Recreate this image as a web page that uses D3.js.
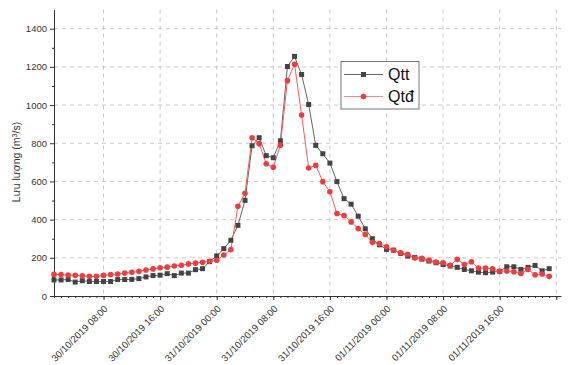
<!DOCTYPE html>
<html>
<head>
<meta charset="utf-8">
<script src="https://cdn.jsdelivr.net/npm/d3@7"></script>
<style>
  body { margin: 0; background: #fff; }
  text { font-family: "Liberation Sans", Arial, sans-serif; }
</style>
</head>
<body>
<svg></svg>
<script>
// hourly timestamps of the measurements
var times = [
  "30/10/2019 01:00","30/10/2019 02:00","30/10/2019 03:00","30/10/2019 04:00","30/10/2019 05:00","30/10/2019 06:00",
  "30/10/2019 07:00","30/10/2019 08:00","30/10/2019 09:00","30/10/2019 10:00","30/10/2019 11:00","30/10/2019 12:00",
  "30/10/2019 13:00","30/10/2019 14:00","30/10/2019 15:00","30/10/2019 16:00","30/10/2019 17:00","30/10/2019 18:00",
  "30/10/2019 19:00","30/10/2019 20:00","30/10/2019 21:00","30/10/2019 22:00","30/10/2019 23:00","31/10/2019 00:00",
  "31/10/2019 01:00","31/10/2019 02:00","31/10/2019 03:00","31/10/2019 04:00","31/10/2019 05:00","31/10/2019 06:00",
  "31/10/2019 07:00","31/10/2019 08:00","31/10/2019 09:00","31/10/2019 10:00","31/10/2019 11:00","31/10/2019 12:00",
  "31/10/2019 13:00","31/10/2019 14:00","31/10/2019 15:00","31/10/2019 16:00","31/10/2019 17:00","31/10/2019 18:00",
  "31/10/2019 19:00","31/10/2019 20:00","31/10/2019 21:00","31/10/2019 22:00","31/10/2019 23:00","01/11/2019 00:00",
  "01/11/2019 01:00","01/11/2019 02:00","01/11/2019 03:00","01/11/2019 04:00","01/11/2019 05:00","01/11/2019 06:00",
  "01/11/2019 07:00","01/11/2019 08:00","01/11/2019 09:00","01/11/2019 10:00","01/11/2019 11:00","01/11/2019 12:00",
  "01/11/2019 13:00","01/11/2019 14:00","01/11/2019 15:00","01/11/2019 16:00","01/11/2019 17:00","01/11/2019 18:00",
  "01/11/2019 19:00","01/11/2019 20:00","01/11/2019 21:00","01/11/2019 22:00","01/11/2019 23:00"
];

var qtt = [84, 84, 86, 73, 80, 76, 76, 76, 76, 86, 86, 87, 91, 100, 107, 109, 117, 107, 120, 120,
  138, 143, 180, 210, 248, 292, 370, 501, 787, 829, 735, 724, 813, 1202, 1255, 1160, 1003, 789, 745, 696,
  599, 510, 481, 418, 352, 300, 268, 244, 240, 223, 209, 202, 193, 183, 174, 165, 157, 150, 139, 132,
  125, 122, 125, 129, 153, 153, 139, 150, 160, 132, 143];

var qtd = [113, 112, 110, 108, 106, 103, 103, 108, 112, 115, 120, 124, 129, 136, 142, 148, 151, 157, 161, 168,
  172, 177, 182, 187, 215, 243, 470, 538, 829, 798, 693, 674, 790, 1128, 1214, 948, 670, 684, 599, 546,
  432, 421, 388, 353, 322, 281, 275, 258, 240, 226, 219, 199, 197, 188, 178, 174, 161, 192, 165, 179,
  146, 146, 143, 129, 131, 127, 118, 139, 111, 115, 103];

var tickLabels = ["30/10/2019 08:00", "30/10/2019 16:00", "31/10/2019 00:00", "31/10/2019 08:00",
  "31/10/2019 16:00", "01/11/2019 00:00", "01/11/2019 08:00", "01/11/2019 16:00"];
var lastTick = "02/11/2019 00:00"; // tick without label
var yTicks = [0, 200, 400, 600, 800, 1000, 1200, 1400];

var svgWidth = 569, svgHeight = 365;
var plotLeft = 54, plotRight = 561, plotTop = 9.6, plotBottom = 296;

var parse = d3.timeParse("%d/%m/%Y %H:%M");
var dates = times.map(parse);

var svg = d3.select("svg")
    .attr("width", svgWidth)
    .attr("height", svgHeight);

var x = d3.scaleTime()
    .domain([parse("30/10/2019 01:00"), parse("02/11/2019 00:40")])
    .range([plotLeft, plotRight]);

var y = d3.scaleLinear()
    .domain([0, 1500])
    .range([plotBottom, plotTop]);

var majorX = tickLabels.concat([lastTick]).map(parse);

// dashed grid
svg.append("g").selectAll("line")
    .data(yTicks.slice(1))
    .enter().append("line")
    .attr("x1", plotLeft).attr("x2", plotRight)
    .attr("y1", function(d) { return y(d); })
    .attr("y2", function(d) { return y(d); })
    .attr("stroke", "#c8c8c8").attr("stroke-dasharray", "4,4");

svg.append("g").selectAll("line")
    .data(majorX)
    .enter().append("line")
    .attr("x1", function(d) { return x(d); })
    .attr("x2", function(d) { return x(d); })
    .attr("y1", plotTop).attr("y2", plotBottom)
    .attr("stroke", "#c8c8c8").attr("stroke-dasharray", "4,4");

// minor ticks
svg.append("g")
    .attr("transform", "translate(0," + plotBottom + ")")
    .call(d3.axisBottom(x).tickValues(d3.timeHour.range(x.domain()[0], x.domain()[1])).tickSize(2).tickFormat(""))
    .call(function(g) { g.select(".domain").remove(); });

svg.append("g")
    .attr("transform", "translate(" + plotLeft + ",0)")
    .call(d3.axisLeft(y).tickValues(d3.range(100, 1500, 200)).tickSize(2).tickFormat(""))
    .call(function(g) { g.select(".domain").remove(); });

// x axis
var xAxis = svg.append("g")
    .attr("transform", "translate(0," + plotBottom + ")")
    .call(d3.axisBottom(x).tickValues(majorX).tickSize(4).tickSizeOuter(0)
        .tickFormat(function(d, i) { return i < tickLabels.length ? tickLabels[i] : ""; }));

xAxis.selectAll("text")
    .attr("text-anchor", "end")
    .attr("font-size", "9.6px")
    .attr("fill", "#333")
    .attr("x", 0).attr("y", 0).attr("dy", "0.35em")
    .attr("transform", "translate(2,11) rotate(-45)");

// y axis
var yAxis = svg.append("g")
    .attr("transform", "translate(" + plotLeft + ",0)")
    .call(d3.axisLeft(y).tickValues(yTicks).tickSize(4).tickSizeOuter(0).tickPadding(3)
        .tickFormat(d3.format("d")));

yAxis.selectAll("text").attr("font-size", "9.5px").attr("fill", "#333");
svg.selectAll(".domain, .tick line").attr("stroke", "#333");

svg.append("text")
    .attr("transform", "translate(20,162) rotate(-90)")
    .attr("text-anchor", "middle")
    .attr("font-size", "10.5px")
    .attr("fill", "#333")
    .html("Lưu lượng (m<tspan baseline-shift='super' font-size='7px'>3</tspan>/s)");

// series lines
var line = d3.line()
    .x(function(d, i) { return x(dates[i]); })
    .y(function(d) { return y(d); });

svg.append("path").datum(qtt)
    .attr("d", line).attr("fill", "none")
    .attr("stroke", "#666").attr("stroke-width", 1);

svg.append("path").datum(qtd)
    .attr("d", line).attr("fill", "none")
    .attr("stroke", "#ff5a5a").attr("stroke-width", 1);

svg.append("g").selectAll("rect")
    .data(qtt)
    .enter().append("rect")
    .attr("x", function(d, i) { return x(dates[i]) - 2.5; })
    .attr("y", function(d) { return y(d) - 2.5; })
    .attr("width", 5).attr("height", 5)
    .attr("fill", "#444");

svg.append("g").selectAll("circle")
    .data(qtd)
    .enter().append("circle")
    .attr("cx", function(d, i) { return x(dates[i]); })
    .attr("cy", function(d) { return y(d); })
    .attr("r", 2.8)
    .attr("fill", "#f03c3c");

// legend
var legend = svg.append("g");
legend.append("rect")
    .attr("x", 341).attr("y", 61.5).attr("width", 78).attr("height", 47.5)
    .attr("fill", "#fff").attr("stroke", "#777").attr("stroke-width", 1);

legend.append("line").attr("x1", 344).attr("x2", 383).attr("y1", 74.5).attr("y2", 74.5)
    .attr("stroke", "#666");
legend.append("rect").attr("x", 361).attr("y", 72).attr("width", 5).attr("height", 5).attr("fill", "#444");
legend.append("text").attr("x", 388).attr("y", 80).attr("font-size", "16px").attr("fill", "#111").text("Qtt");

legend.append("line").attr("x1", 344).attr("x2", 383).attr("y1", 96.5).attr("y2", 96.5)
    .attr("stroke", "#ff8a8a");
legend.append("circle").attr("cx", 363.5).attr("cy", 96.5).attr("r", 2.8).attr("fill", "#f03c3c");
legend.append("text").attr("x", 388).attr("y", 102).attr("font-size", "16px").attr("fill", "#111").text("Qtđ");
</script>
</body>
</html>
